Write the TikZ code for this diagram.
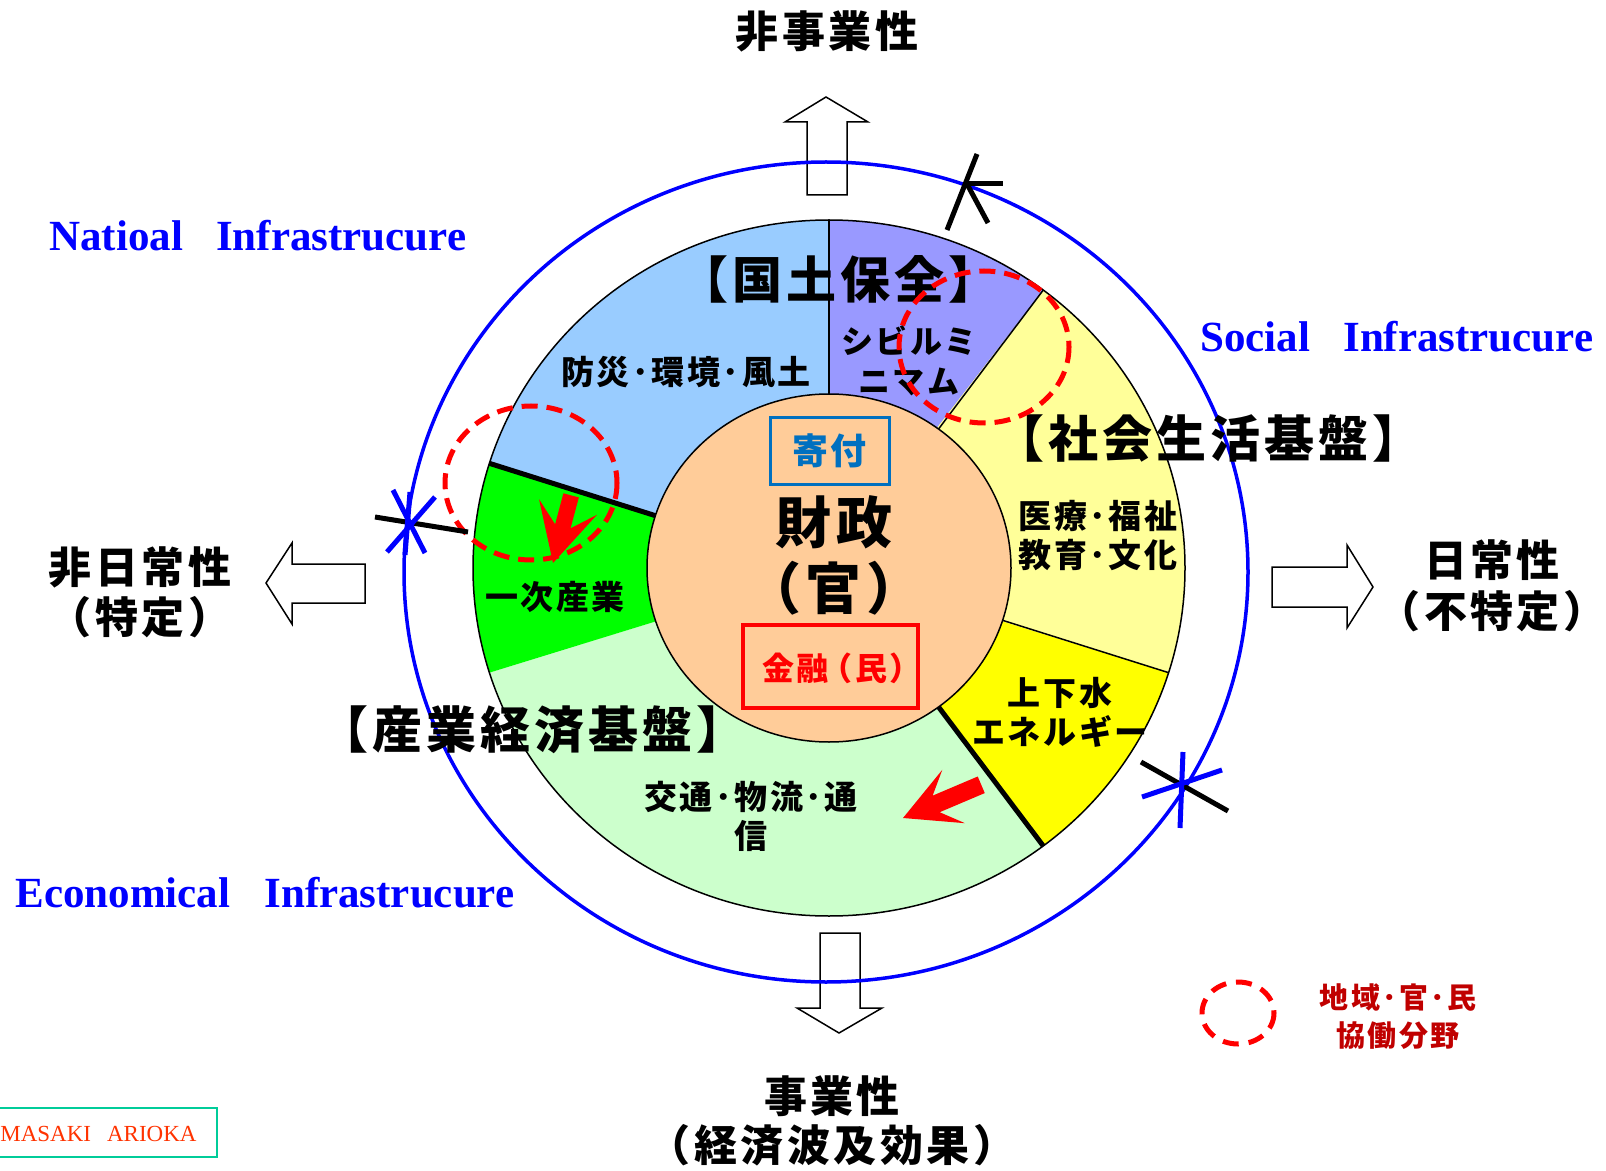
\documentclass[tikz,border=0pt]{standalone}
\usepackage{fontspec}
\usetikzlibrary{calc}
\newfontfamily\jpfont{Noto Sans CJK JP}[LetterSpace=8]
\newfontfamily\tmsfont{Liberation Serif}
\definecolor{skyblue}{HTML}{99CCFF}
\definecolor{lavender}{HTML}{9999FF}
\definecolor{paleyellow}{HTML}{FFFF99}
\definecolor{brightyellow}{HTML}{FFFF00}
\definecolor{palegreen}{HTML}{CCFFCC}
\definecolor{brightgreen}{HTML}{00FF00}
\definecolor{peach}{HTML}{FFCC99}
\definecolor{donblue}{HTML}{0070C0}
\definecolor{darkred}{HTML}{C00000}
\definecolor{infblue}{HTML}{0000FF}
\definecolor{creditred}{HTML}{FF3300}
\definecolor{creditteal}{HTML}{00CC99}
\tikzset{
  jp/.style 2 args={inner sep=0pt, align=center, font={\jpfont\bfseries\fontsize{#1}{#2}\selectfont}},
  inf/.style={inner sep=0pt, anchor=base west, text=infblue, font={\tmsfont\bfseries\fontsize{21.5pt}{26pt}\selectfont}},
  blockarrow/.style={draw=black, fill=white, line width=0.75pt, line join=miter},
  thinedge/.style={draw=black, line width=0.75pt},
  thickedge/.style={draw=black, line width=2.5pt},
  redring/.style={draw=red, line width=2.5pt, dash pattern=on 8pt off 4.5pt},
  tickmark/.style={line width=2.5pt},
  redarrowshape/.style={fill=red, draw=none}
}
\newcommand\ringsector[3]{\fill[#1] (C) -- ++(#2:356 and 348) arc[start angle=#2, end angle=#3, x radius=356, y radius=348] -- cycle;}
\begin{document}
\begin{tikzpicture}[x=0.5pt,y=-0.5pt]
\fill[white] (0,0) rectangle (1606,1171);
\useasboundingbox (0,0) rectangle (1606,1171);

% block arrows
\draw[blockarrow] (807,195) -- (807,122) -- (785,122) -- (826,97) -- (868,122) -- (847,122) -- (847,195) -- cycle;
\draw[blockarrow] (820,933) -- (860,933) -- (860,1008) -- (882,1008) -- (839,1033) -- (797,1008) -- (820,1008) -- cycle;
\draw[blockarrow] (365,564) -- (292,564) -- (292,543) -- (266,583) -- (292,624) -- (292,603) -- (365,603) -- cycle;
\draw[blockarrow] (1272,567) -- (1347,567) -- (1347,545) -- (1373,587) -- (1347,628) -- (1347,607) -- (1272,607) -- cycle;

% blue ellipse
\draw[infblue, line width=1.75pt] (826,572) ellipse [x radius=422, y radius=410];

% ring
\coordinate (C) at (829,568);
\ringsector{skyblue}{-162.5}{-90}
\ringsector{lavender}{-90}{-53}
\ringsector{paleyellow}{-53}{17.5}
\ringsector{brightyellow}{17.5}{53}
\ringsector{palegreen}{53}{162.5}
\ringsector{brightgreen}{162.5}{197.5}
\draw[thinedge] (C) ellipse [x radius=356, y radius=348];
\foreach \n/\a in {b1/-162.5, b2/-90, b3/-53, b4/17.5, b5/53, b6/197.5}{
  \path (C) ++(\a:356 and 348) coordinate (\n o);
  \path (C) ++(\a:170 and 162) coordinate (\n i);
}
\draw[thinedge] (b2i) -- (b2o);
\draw[thinedge] (b3i) -- (b3o);
\draw[thinedge] (b4i) -- (b4o);
\draw[thinedge] (b6i) -- (b6o);
\draw[thickedge] (b1i) -- (b1o);
\draw[thickedge] (b5i) -- (b5o);
\filldraw[fill=peach, draw=black, line width=0.75pt] (C) ellipse [x radius=182, y radius=174];

% outer labels
\node[jp={21.5pt}{25pt}] (topL) at (827,31) {非事業性};
\node[jp={21.5pt}{24.5pt}] (botL) at (832,1121) {事業性\\（経済波及効果）};
\node[jp={21.5pt}{25pt}] (leftL) at (140,592) {非日常性\\（特定）};
\node[jp={21.5pt}{25.5pt}] (rightL) at (1492,586) {日常性\\（不特定）};
\node[inf] (natL) at (49,251) {Natioal\hspace{16.5pt}Infrastrucure};
\node[inf] (socL) at (1200,352) {Social\hspace{16.5pt}Infrastrucure};
\node[inf] (ecoL) at (15,907) {Economical\hspace{17pt}Infrastrucure};

% ring labels
\node[jp={25pt}{28pt}] (kokudo) at (838,279) {【国土保全】};
\node[jp={16.5pt}{19.5pt}] (bosai) at (686,372) {防災･環境･風土};
\node[jp={16pt}{20pt}] (civil) at (909,361) {シビルミ\\ニマム};
\node[jp={25pt}{28pt}] (shakai) at (1208,438) {【社会生活基盤】};
\node[jp={16.5pt}{19.5pt}] (iryo) at (1098,536) {医療･福祉\\教育･文化};
\node[jp={16.5pt}{19.5pt}] (jouge) at (1060,712) {上下水\\エネルギー};
\node[jp={16.5pt}{19.5pt}] (kotsu) at (751,816) {交通･物流･通\\信};
\node[jp={25pt}{28pt}] (sangyo) at (532,730) {【産業経済基盤】};
\node[jp={16.5pt}{19.5pt}] (ichiji) at (555,597) {一次産業};

% centre
\node[jp={18pt}{20pt}, text=donblue, draw=donblue, line width=1.5pt, minimum width=59.5pt, minimum height=33pt] (kifu) at (829.5,451) {寄付};
\node[jp={28pt}{33pt}] (zaisei) at (834,555) {財政\\（官）};
\node[draw=red, line width=2pt, minimum width=87.5pt, minimum height=41.5pt, inner sep=0pt] (kinyuBox) at (830.5,666.5) {};
\node[jp={16pt}{19pt}, text=red] (kinyu) at (842,668) {金融\hspace{-4pt}（民）};

% red dashed circles
\draw[redring] (984,347) ellipse [x radius=85, y radius=76];
\draw[redring] (531,483) ellipse [x radius=86, y radius=77];

% red arrows
\begin{scope}[shift={(553,563)}, rotate=255]
  \fill[redarrowshape] (0,0) -- (-58,30) -- (-38,8) -- (-70,8) -- (-70,-8) -- (-38,-8) -- (-58,-30) -- cycle;
\end{scope}
\begin{scope}[shift={(903,818)}, rotate=203]
  \fill[redarrowshape] (0,0) -- (-55,29) -- (-36,9) -- (-85,9) -- (-85,-9) -- (-36,-9) -- (-55,-29) -- cycle;
\end{scope}

% markers on the blue ellipse
\draw[tickmark, black] (947,230) -- (977,154);
\draw[tickmark, black] (967,184) -- (1003,184);
\draw[tickmark, black] (967,184) -- (988,223);
\draw[tickmark, black] (375,517) -- (468,532);
\draw[tickmark, infblue] (393,490) -- (425,553);
\draw[tickmark, infblue] (435,497) -- (387,552);
\draw[tickmark, infblue] (410,492) -- (405,555);
\draw[tickmark, black] (1141,762) -- (1228,811);
\draw[tickmark, infblue] (1183,752) -- (1180,828);
\draw[tickmark, infblue] (1142,797) -- (1222,770);

% legend
\draw[redring, dash pattern=on 8pt off 5pt] (1238,1013) ellipse [x radius=36, y radius=31];
\node[jp={14.5pt}{19pt}, text=darkred] (legend) at (1398,1017) {地域･官･民\\協働分野};

% credit
\draw[creditteal, line width=0.75pt] (-10,1108) rectangle (217,1157);
\node[anchor=base west, inner sep=0pt, text=creditred, font={\tmsfont\fontsize{11.5pt}{13pt}\selectfont}] (credit) at (0,1141) {MASAKI\hspace{8pt}ARIOKA};
\end{tikzpicture}
\end{document}
